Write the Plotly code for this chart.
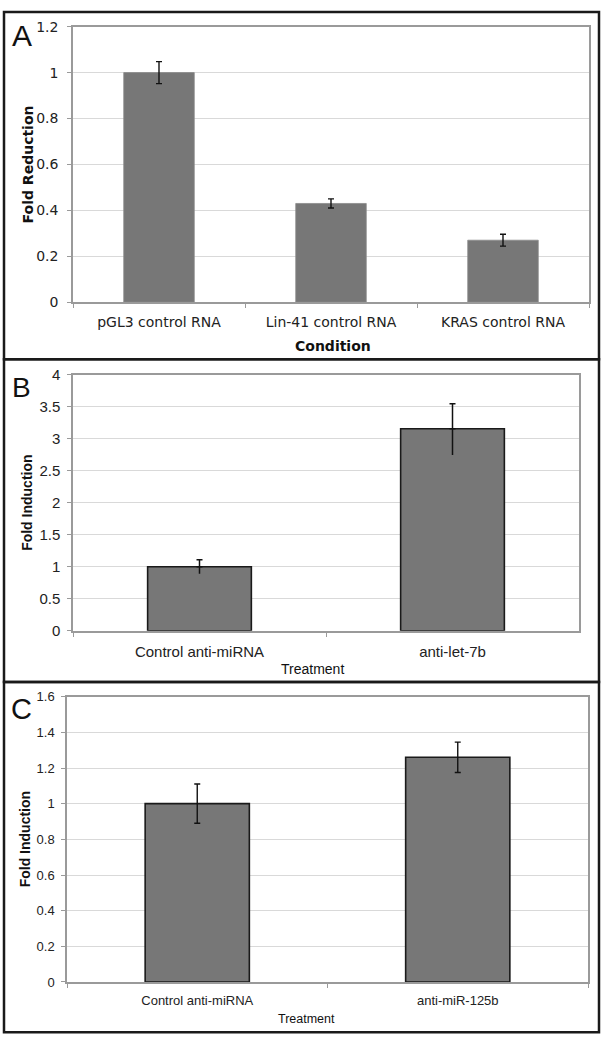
import plotly.graph_objects as go

W, H = 604, 1050

# ---------------- data ----------------
a_categories = ["pGL3 control RNA", "Lin-41 control RNA", "KRAS control RNA"]
a_values = [1.0, 0.43, 0.27]
a_errors = [0.048, 0.02, 0.026]

b_categories = ["Control anti-miRNA", "anti-let-7b"]
b_values = [1.0, 3.16]
b_err_plus = [0.11, 0.39]
b_err_minus = [0.11, 0.41]

c_categories = ["Control anti-miRNA", "anti-miR-125b"]
c_values = [1.0, 1.26]
c_errors = [0.11, 0.085]

# ---------------- helpers ----------------
def px_x(p):
    return p / W

def px_y(p):
    return 1 - p / H

BAR_FILL = "#777777"
GRID = "#d9d9d9"
AXLINE = "#9a9a9a"
TXT = "#222222"

fig = go.Figure()

# Panel A
fig.add_trace(go.Bar(
    x=a_categories, y=a_values, width=0.41,
    marker=dict(color=BAR_FILL, line=dict(color="#8a8a8a", width=0.8)),
    error_y=dict(type="data", array=a_errors, color="#111", thickness=1.4, width=3),
    xaxis="x", yaxis="y", showlegend=False,
))

# Panel B (caps only on top)
fig.add_trace(go.Bar(
    x=b_categories, y=b_values, width=0.41,
    marker=dict(color=BAR_FILL, line=dict(color="#1a1a1a", width=1.6)),
    error_y=dict(type="data", symmetric=False, array=b_err_plus,
                 arrayminus=[0] * len(b_values), color="#111", thickness=1.5, width=3),
    xaxis="x2", yaxis="y2", showlegend=False,
))
fig.add_trace(go.Scatter(
    x=b_categories, y=b_values, mode="markers",
    marker=dict(opacity=0, size=1),
    error_y=dict(type="data", symmetric=False, array=[0] * len(b_values),
                 arrayminus=b_err_minus, color="#111", thickness=1.5, width=0),
    xaxis="x2", yaxis="y2", showlegend=False, hoverinfo="skip",
))

# Panel C
fig.add_trace(go.Bar(
    x=c_categories, y=c_values, width=0.40,
    marker=dict(color=BAR_FILL, line=dict(color="#1a1a1a", width=1.6)),
    error_y=dict(type="data", array=c_errors, color="#111", thickness=1.4, width=3),
    xaxis="x3", yaxis="y3", showlegend=False,
))

def xaxis(domain, anchor, font, size, standoff):
    return dict(
        domain=domain, anchor=anchor, type="category",
        showline=True, linecolor=AXLINE, linewidth=1.5, mirror=True,
        ticks="outside", tickson="boundaries", ticklen=4, tickcolor=AXLINE,
        tickfont=dict(family=font, size=size, color=TXT),
        ticklabelstandoff=standoff, showgrid=False, fixedrange=True,
    )

def yaxis(domain, anchor, rng, dtick, font, size, standoff):
    return dict(
        domain=domain, anchor=anchor, range=rng, dtick=dtick,
        showline=True, linecolor=AXLINE, linewidth=1.5, mirror=True,
        ticks="outside", ticklen=4, tickcolor=AXLINE,
        showgrid=True, gridcolor=GRID, gridwidth=1, zeroline=False,
        tickfont=dict(family=font, size=size, color=TXT),
        ticklabelstandoff=standoff, fixedrange=True,
    )

VERD = "DejaVu Sans"
ARIAL = "Liberation Sans, Arial"

layout = dict(
    width=W, height=H, margin=dict(l=0, r=0, t=0, b=0),
    paper_bgcolor="white", plot_bgcolor="white", bargap=0.59,
    xaxis=xaxis([px_x(73), px_x(589)], "y", VERD, 14, 6),
    yaxis=yaxis([px_y(298), px_y(18)], "x", [0, 1.2], 0.2, VERD, 14, 6),
    xaxis2=xaxis([px_x(73), px_x(579)], "y2", ARIAL, 15, 6),
    yaxis2=yaxis([px_y(632), px_y(372)], "x2", [0, 4], 0.5, ARIAL, 15, 4),
    xaxis3=xaxis([px_x(67), px_x(588)], "y3", ARIAL, 13, 6),
    yaxis3=yaxis([px_y(989), px_y(699)], "x3", [0, 1.6], 0.2, ARIAL, 13, 4),
)

annotations = []
def ann(text, xp, yp, family, size, bold=False, angle=0):
    annotations.append(dict(
        text=f"<b>{text}</b>" if bold else text,
        x=px_x(xp), y=px_y(yp), xref="paper", yref="paper",
        xanchor="center", yanchor="middle", showarrow=False, textangle=angle,
        font=dict(family=family, size=size, color="#111"),
    ))

# panel letters
ann("A", 22, 27, ARIAL, 30)
ann("B", 21, 385, ARIAL, 28)
ann("C", 21, 712, ARIAL, 29)
# axis titles
ann("Fold Reduction", 28, 158, VERD, 14, bold=True, angle=-90)
ann("Condition", 333, 343, VERD, 14, bold=True)
ann("Fold Induction", 27, 502, ARIAL, 14, bold=True, angle=-90)
ann("Treatment", 312, 671, ARIAL, 14)
ann("Fold Induction", 25, 844, ARIAL, 14, bold=True, angle=-90)
ann("Treatment", 306, 1027, ARIAL, 12.5)
layout["annotations"] = annotations

# panel frames
shapes = []
for (y0, y1) in [(3, 356), (356, 684), (684, 1040)]:
    shapes.append(dict(type="rect", xref="paper", yref="paper",
                       x0=px_x(4), x1=px_x(599), y0=px_y(y1), y1=px_y(y0),
                       line=dict(color="#1a1a1a", width=2.5)))
layout["shapes"] = shapes

fig.update_layout(**layout)
fig.write_html(
    "out.html",
    config={"displayModeBar": False},
    post_script="document.body.style.margin='0';document.body.style.overflow='hidden';",
)
